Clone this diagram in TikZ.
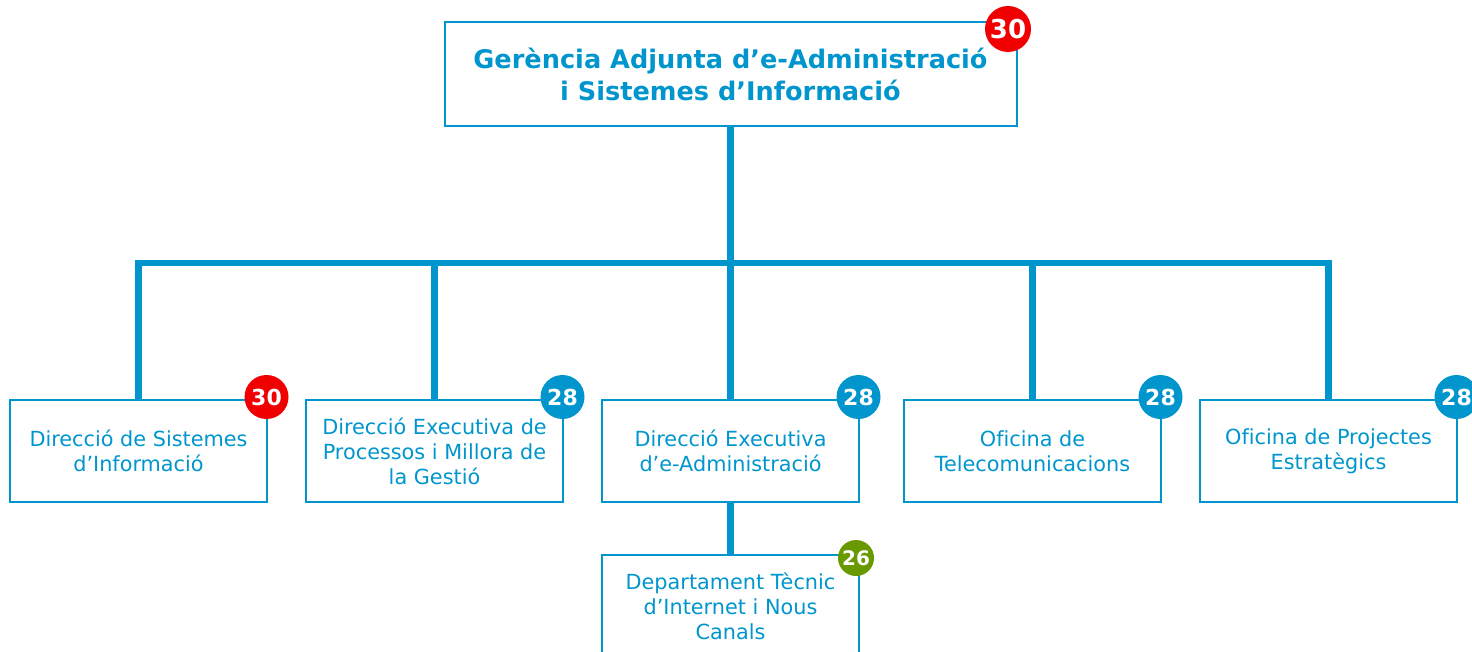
\documentclass[tikz,border=0pt]{standalone}
\usepackage{fontspec}
\setmainfont[Ligatures=CommonOff]{DejaVu Sans}
\usepackage{tikz}
\definecolor{orgblue}{RGB}{0,150,205}
\definecolor{orgred}{RGB}{240,0,0}
\definecolor{orggreen}{RGB}{105,153,0}

\begin{document}
\begin{tikzpicture}[x=0.5pt,y=-0.5pt]
    \tikzstyle{unit}=[draw=orgblue,line width=1pt,minimum width=128.5pt,minimum height=51pt,inner sep=0pt,align=center,text=orgblue,font=\fontsize{10.4}{12.5}\selectfont]
    \tikzstyle{top unit}=[unit,minimum width=286pt,minimum height=52pt,font=\bfseries\fontsize{12.8}{16}\selectfont]
    \tikzstyle{badge}=[circle,fill=orgblue,text=white,minimum size=22pt,inner sep=0pt,font=\bfseries\fontsize{11}{11}\selectfont]
    \tikzstyle{red badge}=[badge,fill=orgred]
    \tikzstyle{green badge}=[badge,fill=orggreen,minimum size=18pt,font=\bfseries\fontsize{10}{10}\selectfont]
    \tikzstyle{link}=[draw=orgblue,line width=3.2pt]

    \useasboundingbox (0,0) rectangle (1472,652);

    % Draw the units
    \node[top unit] (G) at (730.5,74) {Gerència Adjunta d’e-Administració\\i Sistemes d’Informació};
    \node[unit] (D-1) at (138.5,451) {Direcció de Sistemes\\d’Informació};
    \node[unit] (D-2) at (434.5,451) {Direcció Executiva de\\Processos i Millora de\\la Gestió};
    \node[unit] (D-3) at (730.5,451) {Direcció Executiva\\d’e-Administració};
    \node[unit] (D-4) at (1032.5,451) {Oficina de\\Telecomunicacions};
    \node[unit] (D-5) at (1328.5,451) {Oficina de Projectes\\Estratègics};
    \node[unit] (S) at (730.5,606) {Departament Tècnic\\d’Internet i Nous\\Canals};
    \coordinate (J) at (730.5,263);

    % Connect the units
    \draw[link] (G) -- (J);
    \draw[link] (J) -| (D-1.north);
    \draw[link] (J) -| (D-2.north);
    \draw[link] (J) -- (D-3.north);
    \draw[link] (J) -| (D-4.north);
    \draw[link] (J) -| (D-5.north);
    \draw[link] (D-3) -- (S);

    % Badges
    \node[red badge,minimum size=23pt,font=\bfseries\fontsize{13}{13}\selectfont] (B-G) at (1008,29) {30};
    \node[red badge] (B-1) at (266.5,397) {30};
    \node[badge] (B-2) at (562.5,397) {28};
    \node[badge] (B-3) at (858.5,397) {28};
    \node[badge] (B-4) at (1160.5,397) {28};
    \node[badge] (B-5) at (1456.5,397) {28};
    \node[green badge] (B-S) at (856,558) {26};
\end{tikzpicture}
\end{document}
